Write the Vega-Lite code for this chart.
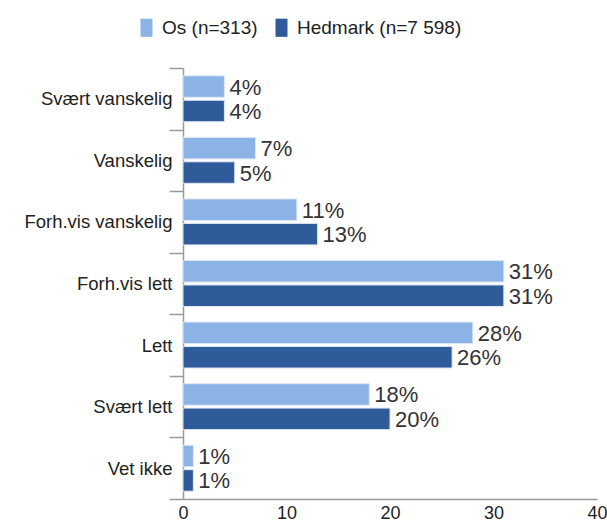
{
  "$schema": "https://vega.github.io/schema/vega-lite/v6.json",
  "width": 414,
  "height": 431,
  "autosize": {"type": "none"},
  "padding": {"left": 183, "top": 68, "right": 10, "bottom": 24},
  "background": "white",
  "config": {
    "view": {"stroke": null},
    "font": "Liberation Sans"
  },
  "data": {
    "values": [
      {"kategori": "Svært vanskelig", "serie": "Os (n=313)", "verdi": 4, "etikett": "4%"},
      {"kategori": "Svært vanskelig", "serie": "Hedmark (n=7 598)", "verdi": 4, "etikett": "4%"},
      {"kategori": "Vanskelig", "serie": "Os (n=313)", "verdi": 7, "etikett": "7%"},
      {"kategori": "Vanskelig", "serie": "Hedmark (n=7 598)", "verdi": 5, "etikett": "5%"},
      {"kategori": "Forh.vis vanskelig", "serie": "Os (n=313)", "verdi": 11, "etikett": "11%"},
      {"kategori": "Forh.vis vanskelig", "serie": "Hedmark (n=7 598)", "verdi": 13, "etikett": "13%"},
      {"kategori": "Forh.vis lett", "serie": "Os (n=313)", "verdi": 31, "etikett": "31%"},
      {"kategori": "Forh.vis lett", "serie": "Hedmark (n=7 598)", "verdi": 31, "etikett": "31%"},
      {"kategori": "Lett", "serie": "Os (n=313)", "verdi": 28, "etikett": "28%"},
      {"kategori": "Lett", "serie": "Hedmark (n=7 598)", "verdi": 26, "etikett": "26%"},
      {"kategori": "Svært lett", "serie": "Os (n=313)", "verdi": 18, "etikett": "18%"},
      {"kategori": "Svært lett", "serie": "Hedmark (n=7 598)", "verdi": 20, "etikett": "20%"},
      {"kategori": "Vet ikke", "serie": "Os (n=313)", "verdi": 1, "etikett": "1%"},
      {"kategori": "Vet ikke", "serie": "Hedmark (n=7 598)", "verdi": 1, "etikett": "1%"}
    ]
  },
  "encoding": {
    "y": {
      "field": "kategori",
      "type": "nominal",
      "sort": ["Svært vanskelig", "Vanskelig", "Forh.vis vanskelig", "Forh.vis lett", "Lett", "Svært lett", "Vet ikke"],
      "scale": {"paddingInner": 0, "paddingOuter": 0},
      "axis": {
        "title": null,
        "tickBand": "extent",
        "tickSize": 14,
        "tickColor": "#9a9a9a",
        "tickWidth": 1.5,
        "domainColor": "#9a9a9a",
        "domainWidth": 1.5,
        "labelFontSize": 18.5,
        "labelColor": "#222222",
        "labelPadding": -3,
        "labelLimit": 220
      }
    },
    "yOffset": {
      "field": "serie",
      "type": "nominal",
      "sort": ["Os (n=313)", "Hedmark (n=7 598)"],
      "scale": {"paddingInner": 0.12, "paddingOuter": 0.32}
    },
    "x": {
      "field": "verdi",
      "type": "quantitative",
      "scale": {"domain": [0, 40], "nice": false},
      "axis": {
        "title": null,
        "values": [0, 10, 20, 30, 40],
        "grid": false,
        "ticks": false,
        "labelFontSize": 18,
        "labelColor": "#222222",
        "labelPadding": 5,
        "domainColor": "#9a9a9a",
        "domainWidth": 1.5,
        "labelFlush": false
      }
    }
  },
  "layer": [
    {
      "mark": {"type": "bar", "stroke": "#dde6f2", "strokeWidth": 1},
      "encoding": {
        "color": {
          "field": "serie",
          "type": "nominal",
          "sort": ["Os (n=313)", "Hedmark (n=7 598)"],
          "scale": {"domain": ["Os (n=313)", "Hedmark (n=7 598)"], "range": ["#8cb3e6", "#2f5b9a"]},
          "legend": {
            "title": null,
            "orient": "none",
            "direction": "horizontal",
            "legendX": -46,
            "legendY": -50,
            "symbolType": "M-0.66,-1H0.66V1H-0.66Z",
            "symbolSize": 330,
            "symbolStrokeWidth": 0,
            "labelFontSize": 19,
            "labelLimit": 300,
            "labelColor": "#222222",
            "labelOffset": 6,
            "columnPadding": 14
          }
        }
      }
    },
    {
      "mark": {"type": "text", "align": "left", "baseline": "middle", "dx": 5, "dy": 1, "fontSize": 22, "color": "#333333"},
      "encoding": {
        "text": {"field": "etikett", "type": "nominal"}
      }
    }
  ]
}
